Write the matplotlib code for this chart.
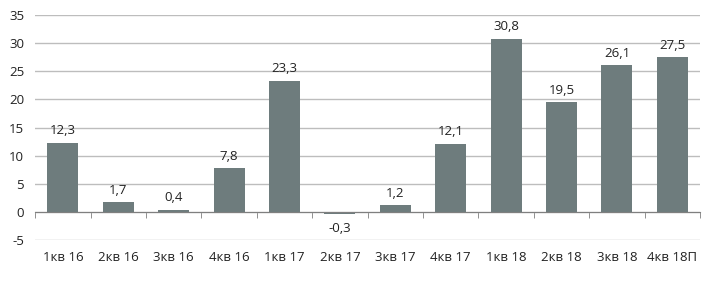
import numpy as np
import matplotlib.pyplot as plt
from matplotlib.ticker import FixedLocator

# quarterly values
quarters = ["1кв 16", "2кв 16", "3кв 16", "4кв 16", "1кв 17", "2кв 17",
            "3кв 17", "4кв 17", "1кв 18", "2кв 18", "3кв 18", "4кв 18П"]
values = [12.3, 1.7, 0.4, 7.8, 23.3, -0.3, 1.2, 12.1, 30.8, 19.5, 26.1, 27.5]
yticks = [-5, 0, 5, 10, 15, 20, 25, 30, 35]

plt.rcParams['font.family'] = ['Open Sans', 'DejaVu Sans']
plt.rcParams['axes.unicode_minus'] = False

fig = plt.figure(figsize=(7.05, 3.07), dpi=100)
ax = fig.add_axes([0.05, 0.218, 0.943, 0.733])

x = np.arange(len(values))
bars = ax.bar(x, values, width=0.56, color='#6e7c7d', zorder=3)

for xi, v in zip(x, values):
    if v >= 0:
        ax.annotate(f"{v:.1f}".replace('.', ','), (xi, v), xytext=(0, 4),
                    textcoords='offset points', ha='center', va='bottom',
                    fontsize=9.5, color='#222222')
    else:
        ax.annotate(f"{v:.1f}".replace('.', ','), (xi, v), xytext=(0, -6),
                    textcoords='offset points', ha='center', va='top',
                    fontsize=9.5, color='#222222')

ax.set_xlim(-0.5, len(values) - 0.5)
ax.set_ylim(-5, 35)
ax.set_yticks(yticks)
ax.yaxis.grid(True, color='#bdbdbd', linewidth=1, zorder=0)
ax.tick_params(axis='y', length=0, labelsize=9.5, colors='#222222', pad=8)

for s in ['top', 'right', 'left']:
    ax.spines[s].set_visible(False)
ax.spines['bottom'].set_position(('data', 0))
ax.spines['bottom'].set_color('#7f7f7f')
ax.spines['bottom'].set_zorder(4)

ax.set_xticks(x)
ax.set_xticklabels(quarters)
ax.xaxis.set_minor_locator(FixedLocator(np.arange(-0.5, len(values), 1.0)))
ax.tick_params(axis='x', which='major', length=0, pad=28, labelsize=9.5,
               colors='#222222')
ax.tick_params(axis='x', which='minor', length=4, color='#7f7f7f')

fig.savefig("out.png", dpi=100)
